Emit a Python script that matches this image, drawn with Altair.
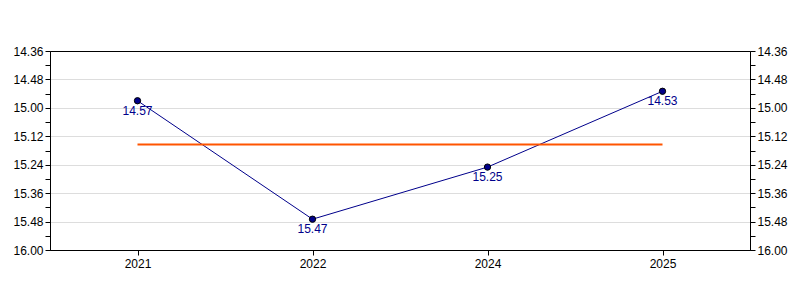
import altair as alt
import pandas as pd

years = ["2021", "2022", "2024", "2025"]
times = ["14:57", "15:47", "15:25", "14:53"]

secs = [int(t.split(":")[0]) * 60 + int(t.split(":")[1]) for t in times]
labels = [t.replace(":", ".") for t in times]
df = pd.DataFrame({"year": years, "sec": secs, "label": labels})

tick_vals = list(range(876, 961, 6))
fmt = "floor(datum.value/60) + '.' + (datum.value % 60 < 10 ? '0' : '') + (datum.value % 60)"
lab_expr = "datum.value % 12 === 0 ? " + fmt + " : ''"

def yaxis(orient):
    return alt.Axis(
        orient=orient, values=tick_vals, labelExpr=lab_expr, title=None,
        grid=(orient == "left"),
        gridOpacity={"condition": {"test": "datum.value % 12 === 0 && datum.value > 876 && datum.value < 960",
                                   "value": 1}, "value": 0},
        gridColor="#dddddd", domainColor="black", tickColor="black",
        tickSize=5, labelFontSize=12, labelColor="black", labelFont="Liberation Sans",
        labelPadding=2, labelOverlap=False, labelBound=False, labelFlush=False,
    )

x = alt.X("year:N", sort=years, scale=alt.Scale(type="point", padding=0.5),
          axis=alt.Axis(title=None, labelAngle=0, grid=False, domainColor="black",
                        tickColor="black", tickSize=5, labelFontSize=12,
                        labelColor="black", labelFont="Liberation Sans", labelPadding=3))
yscale = alt.Scale(domain=[876, 960], reverse=True, nice=False, zero=False)
yl = yaxis("left")

base = alt.Chart(df)

line = base.mark_line(color="#00008B", strokeWidth=1).encode(
    x=x, y=alt.Y("sec:Q", scale=yscale, axis=yl))
line_r = base.mark_line(opacity=0).encode(
    x=x, y=alt.Y("sec:Q", scale=yscale, axis=yaxis("right")))
mean_line = base.transform_joinaggregate(m="mean(sec)").mark_line(
    color="#FF5500", strokeWidth=2).encode(x=x, y=alt.Y("m:Q", scale=yscale, axis=yl))
pts = base.mark_point(filled=True, size=40, color="#00008B", stroke="black",
                      strokeWidth=1, opacity=1).encode(
    x=x, y=alt.Y("sec:Q", scale=yscale, axis=yl))
txt = base.mark_text(dy=10, color="#00008B", fontSize=12, font="Liberation Sans",
                     baseline="middle").encode(
    x=x, y=alt.Y("sec:Q", scale=yscale, axis=yl), text="label:N")

left = alt.layer(line, mean_line, pts, txt)
chart = alt.layer(left, line_r).resolve_axis(y="independent").resolve_scale(y="shared").properties(
    width=700, height=199,
    padding={"left": 50, "top": 51, "right": 50, "bottom": 50},
    autosize=alt.AutoSizeParams(type="none"),
).configure_view(stroke="black", strokeWidth=1)

chart.save("out.html", embed_options={"renderer": "svg", "actions": False})
